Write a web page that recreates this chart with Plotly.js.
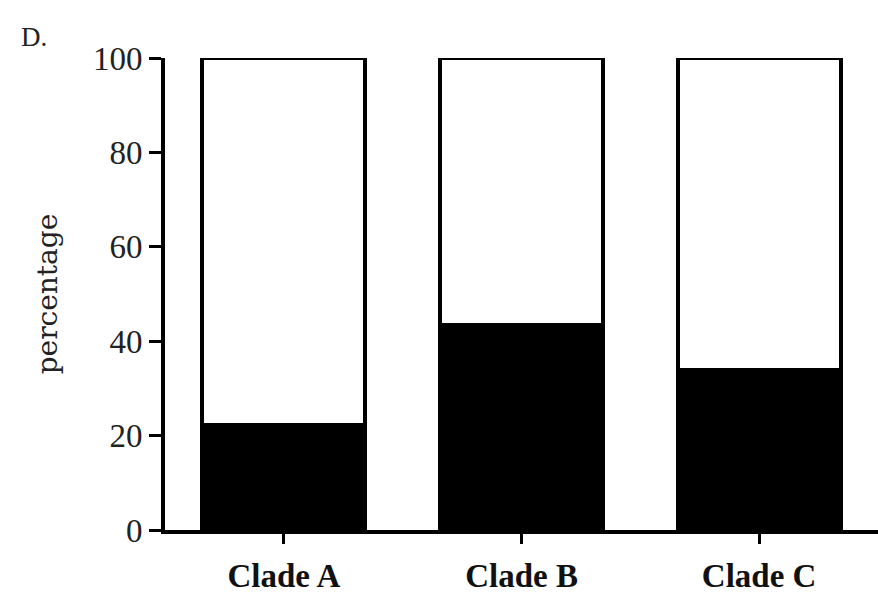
<!DOCTYPE html>
<html>
<head>
<meta charset="utf-8">
<script src="https://cdn.plot.ly/plotly-3.0.1.min.js"></script>
<style>html,body{margin:0;padding:0;background:#fff;}#chart{width:878px;height:595px;}</style>
</head>
<body>
<div id="chart"></div>
<script>
const categories = ["Clade A", "Clade B", "Clade C"];
const blackValues = [22.2, 43.4, 33.8];
const totalValue = 100;
const whiteValues = blackValues.map(v => totalValue - v);
const yTicks = [0, 20, 40, 60, 80, 100];

const font = "Liberation Serif, Times New Roman, serif";
const wideFont = "DejaVu Serif, serif";

const traces = [
  {type: "bar", x: categories, y: blackValues, width: 0.685,
   marker: {color: "#000", line: {color: "#000", width: 4}}, hoverinfo: "skip"},
  {type: "bar", x: categories, y: whiteValues, width: 0.685,
   marker: {color: "#fff", line: {color: "#000", width: 4}}, hoverinfo: "skip"}
];

const layout = {
  width: 878, height: 595,
  margin: {l: 165, r: 0, t: 58, b: 65},
  barmode: "stack",
  showlegend: false,
  paper_bgcolor: "#fff", plot_bgcolor: "#fff",
  xaxis: {
    type: "category", range: [-0.5, 2.5],
    showline: true, linecolor: "#000", linewidth: 4,
    ticks: "outside", ticklen: 10, tickwidth: 3, tickcolor: "#000",
    ticklabelstandoff: 3,
    showgrid: false, zeroline: false,
    tickfont: {family: font, size: 33, color: "#111", weight: "bold"}
  },
  yaxis: {
    range: [0, 100], tickvals: yTicks,
    showline: true, linecolor: "#000", linewidth: 4,
    ticks: "outside", ticklen: 12, tickwidth: 3, tickcolor: "#000",
    showgrid: false, zeroline: false,
    tickfont: {family: font, size: 33, color: "#222"},
    title: {text: "percentage", font: {family: wideFont, size: 28, color: "#222"}, standoff: 28}
  },
  annotations: [
    {text: "D.", xref: "paper", yref: "paper", x: -0.205, y: 1.045, xanchor: "left", yanchor: "middle",
     showarrow: false, font: {family: font, size: 27, color: "#222"}}
  ]
};

Plotly.newPlot("chart", traces, layout, {displayModeBar: false, staticPlot: true});
</script>
</body>
</html>
